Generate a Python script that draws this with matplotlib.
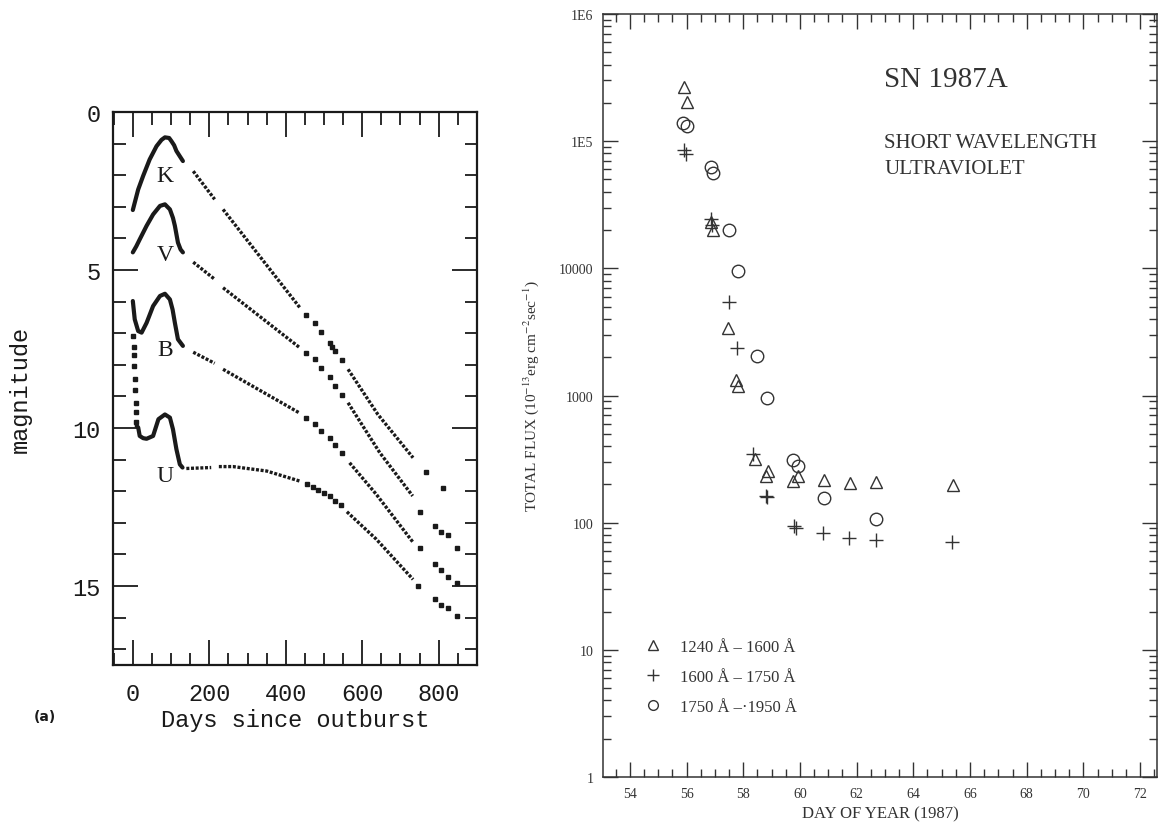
import matplotlib
matplotlib.use('Agg')
import matplotlib.pyplot as plt
import numpy as np
from matplotlib.ticker import MultipleLocator, FixedLocator, FixedFormatter, LogLocator, NullFormatter
from matplotlib.lines import Line2D

nan = np.nan

# ---- left panel: light curves (days since outburst, magnitude + offset) ----
k_early_day = [0, 14, 27, 44, 62, 75, 84, 95, 101, 108, 114, 123, 131]
k_early_mag = [3.1, 2.45, 2.02, 1.5, 1.08, 0.88, 0.8, 0.82, 0.92, 1.05, 1.23, 1.4, 1.55]
k_line_day = [158, 214, nan, 236, 437, nan, 563, 641, 733]
k_line_mag = [1.87, 2.76, nan, 3.08, 6.19, nan, 8.14, 9.57, 10.94]
k_dot_day = [454, 476, 493, 515, 522, 528, 548, 768, 811]
k_dot_mag = [6.43, 6.69, 6.96, 7.3, 7.43, 7.56, 7.85, 11.4, 11.9]

v_early_day = [0, 9, 18, 36, 53, 71, 84, 97, 105, 110, 118, 125, 131]
v_early_mag = [4.44, 4.25, 4.03, 3.6, 3.24, 2.97, 2.92, 3.08, 3.35, 3.6, 4.13, 4.35, 4.44]
v_line_day = [158, 214, nan, 236, 437, nan, 563, 646, 732]
v_line_mag = [4.75, 5.29, nan, 5.56, 7.46, nan, 9.2, 10.78, 12.15]
v_dot_day = [454, 476, 493, 515, 528, 548, 750, 790, 807, 824, 847]
v_dot_mag = [7.61, 7.83, 8.09, 8.37, 8.67, 8.97, 12.66, 13.1, 13.3, 13.4, 13.8]

b_early_day = [0, 5, 14, 23, 36, 53, 71, 84, 97, 104, 110, 118, 131]
b_early_mag = [5.98, 6.56, 6.93, 6.98, 6.67, 6.14, 5.82, 5.75, 5.93, 6.25, 6.67, 7.19, 7.4]
b_line_day = [158, 214, nan, 236, 437, nan, 567, 637, 732]
b_line_mag = [7.6, 7.95, nan, 8.14, 9.53, nan, 11.1, 12.1, 13.6]
b_dot_day = [454, 476, 493, 515, 528, 548, 750, 790, 807, 824, 847]
b_dot_mag = [9.67, 9.88, 10.09, 10.33, 10.55, 10.78, 13.8, 14.3, 14.5, 14.7, 14.9]

u_drop_day = [1, 2, 3, 4, 5, 6, 7, 8, 9]
u_drop_mag = [7.1, 7.45, 7.7, 8.05, 8.45, 8.8, 9.2, 9.5, 9.8]
u_early_day = [10, 14, 18, 27, 36, 53, 67, 84, 97, 105, 114, 123, 130]
u_early_mag = [9.93, 9.98, 10.25, 10.32, 10.34, 10.25, 9.72, 9.57, 9.67, 10.04, 10.67, 11.15, 11.25]
u_line_day = [140, 205, nan, 225, 262, 350, 437, nan, 560, 637, 733]
u_line_mag = [11.28, 11.25, nan, 11.22, 11.22, 11.36, 11.68, nan, 12.65, 13.52, 14.79]
u_dot_day = [455, 470, 485, 500, 515, 530, 545, 746, 790, 807, 824, 847]
u_dot_mag = [11.78, 11.86, 11.95, 12.05, 12.15, 12.3, 12.45, 15.0, 15.4, 15.6, 15.7, 15.95]

band_names = ['K', 'V', 'B', 'U']
band_label_mag = [2.0, 4.5, 7.5, 11.5]

# ---- right panel: IUE short wavelength fluxes ----
tri_day = [55.9, 56.0, 56.85, 56.92, 57.47, 57.74, 57.8, 58.4, 58.79, 58.88, 59.76, 59.92, 60.85, 61.76, 62.7, 65.4]
tri_flux = [2.65e5, 2.04e5, 2.3e4, 2.0e4, 3370, 1325, 1180, 318, 232, 256, 214, 232, 217, 204, 210, 198]

plus_day = [55.9, 55.97, 56.85, 56.9, 57.49, 57.76, 58.35, 58.8, 58.83, 59.8, 59.85, 60.82, 61.74, 62.7, 65.38]
plus_flux = [8.6e4, 7.9e4, 2.44e4, 2.2e4, 5400, 2350, 346, 163, 160, 94.6, 90, 82.4, 75.3, 73.5, 70]

circ_day = [55.88, 56.0, 56.85, 56.94, 57.5, 57.8, 58.47, 58.82, 59.76, 59.92, 60.85, 62.7]
circ_flux = [1.39e5, 1.31e5, 6.3e4, 5.6e4, 2.0e4, 9580, 2055, 955, 313, 277, 157, 107]

legend_labels = ['1240 Å – 1600 Å', '1600 Å – 1750 Å', '1750 Å –·1950 Å']
flux_ticks = [1, 10, 100, 1000, 10000, 1e5, 1e6]
flux_tick_labels = ['1', '10', '100', '1000', '10000', '1E5', '1E6']

plt.rcParams['mathtext.fontset'] = 'stix'
mono = 'Liberation Mono'
serif = 'Liberation Serif'
ink = '#1a1a1a'

fig = plt.figure(figsize=(11.68, 8.29), dpi=100)

# ---------------- left panel ----------------
ax1 = fig.add_axes([0.0967, 0.1966, 0.3116, 0.667])
early = [(k_early_day, k_early_mag), (v_early_day, v_early_mag),
         (b_early_day, b_early_mag), (u_early_day, u_early_mag)]
lines = [(k_line_day, k_line_mag), (v_line_day, v_line_mag),
         (b_line_day, b_line_mag), (u_line_day, u_line_mag)]
dots = [(k_dot_day, k_dot_mag), (v_dot_day, v_dot_mag),
        (b_dot_day, b_dot_mag), (u_dot_day, u_dot_mag)]

for (d, m) in early:
    ax1.plot(d, m, color=ink, lw=3.0, solid_capstyle='round')
for (d, m) in lines:
    ax1.plot(d, m, color=ink, lw=2.4, dashes=(0.9, 0.5))
for (d, m) in dots:
    ax1.plot(d, m, ls='none', marker='s', ms=3, color=ink)
ax1.plot(u_drop_day, u_drop_mag, ls='none', marker='s', ms=2.5, color=ink)

for name, mag in zip(band_names, band_label_mag):
    ax1.text(84, mag, name, family=serif, fontsize=17, ha='center', va='center', color=ink)

ax1.set_xlim(-52, 900)
ax1.set_ylim(17.5, 0)
ax1.xaxis.set_major_locator(MultipleLocator(200))
ax1.xaxis.set_minor_locator(MultipleLocator(50))
ax1.yaxis.set_major_locator(MultipleLocator(5))
ax1.yaxis.set_minor_locator(MultipleLocator(1))
ax1.tick_params(which='both', direction='in', top=True, right=True, width=1.3, color=ink)
ax1.tick_params(which='major', length=18)
ax1.tick_params(which='minor', length=9)
ax1.tick_params(axis='x', which='major', pad=12)
ax1.tick_params(axis='y', which='major', pad=9)
for lab in ax1.get_xticklabels() + ax1.get_yticklabels():
    lab.set_family(mono)
    lab.set_fontsize(17)
    lab.set_color(ink)
for sp in ax1.spines.values():
    sp.set_linewidth(1.6)
    sp.set_color(ink)

ax1.set_xlabel('Days since outburst', family=mono, fontsize=17, color=ink)
ax1.xaxis.set_label_coords(0.5, -0.078)
ax1.set_ylabel('magnitude', family=mono, fontsize=17, color=ink, va='center')
ax1.yaxis.set_label_coords(-0.255, 0.5)
fig.text(0.0385, 0.135, '(a)', fontsize=10, fontweight='bold', ha='center', va='center', color=ink)

# ---------------- right panel ----------------
ax2 = fig.add_axes([0.5163, 0.0615, 0.4743, 0.9204])
gray = '#333333'
ax2.plot(tri_day, tri_flux, ls='none', marker='^', ms=8, mfc='none', mec=gray, mew=1.0)
ax2.plot(plus_day, plus_flux, ls='none', marker='+', ms=10, mec=gray, mew=1.0)
ax2.plot(circ_day, circ_flux, ls='none', marker='o', ms=9, mfc='none', mec=gray, mew=1.0)

ax2.set_yscale('log')
ax2.set_ylim(1, 1e6)
ax2.set_xlim(53.05, 72.6)
ax2.yaxis.set_major_locator(FixedLocator(flux_ticks))
ax2.yaxis.set_major_formatter(FixedFormatter(flux_tick_labels))
ax2.yaxis.set_minor_locator(LogLocator(base=10, subs=np.arange(2, 10)))
ax2.yaxis.set_minor_formatter(NullFormatter())
ax2.xaxis.set_major_locator(MultipleLocator(2))
ax2.xaxis.set_minor_locator(MultipleLocator(0.5))
ax2.tick_params(which='both', direction='in', top=True, right=True, width=1.0, color=gray)
ax2.tick_params(which='major', length=11, pad=7, labelsize=10, labelcolor=gray)
ax2.tick_params(which='minor', length=6)
for lab in ax2.get_xticklabels() + ax2.get_yticklabels():
    lab.set_family(serif)
for sp in ax2.spines.values():
    sp.set_linewidth(1.1)
    sp.set_color(gray)

ax2.set_xlabel('DAY OF YEAR (1987)', family=serif, fontsize=12, color=gray)
ax2.xaxis.set_label_coords(0.5, -0.037)
ax2.set_ylabel(r'TOTAL FLUX (10$^{-13}$erg cm$^{-2}$sec$^{-1}$)', family=serif, fontsize=11,
               color=gray, va='center')
ax2.yaxis.set_label_coords(-0.13, 0.5)

ax2.text(0.508, 0.915, 'SN 1987A', transform=ax2.transAxes, family=serif, fontsize=21,
         ha='left', va='center', color=gray)
ax2.text(0.508, 0.831, 'SHORT WAVELENGTH', transform=ax2.transAxes, family=serif, fontsize=15,
         ha='left', va='center', color=gray)
ax2.text(0.508, 0.797, 'ULTRAVIOLET', transform=ax2.transAxes, family=serif, fontsize=15,
         ha='left', va='center', color=gray)

handles = [
    Line2D([], [], ls='none', marker='^', ms=7, mfc='none', mec=gray, mew=1.0),
    Line2D([], [], ls='none', marker='+', ms=9, mec=gray, mew=1.0),
    Line2D([], [], ls='none', marker='o', ms=7, mfc='none', mec=gray, mew=1.0),
]
leg = ax2.legend(handles, legend_labels, loc='upper left', bbox_to_anchor=(0.06, 0.19),
                 frameon=False, prop={'family': serif, 'size': 12}, labelspacing=0.85,
                 handletextpad=1.0, handlelength=1.2, borderaxespad=0)
for t in leg.get_texts():
    t.set_color(gray)

fig.savefig('out.png', dpi=100)
